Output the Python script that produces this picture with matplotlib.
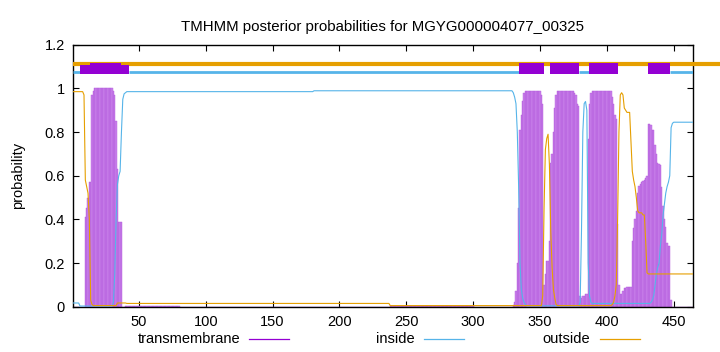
import numpy as np
import matplotlib
matplotlib.use("Agg")
import matplotlib.pyplot as plt
from matplotlib.lines import Line2D
from matplotlib.patches import Rectangle

plt.rcParams['font.family'] = ['Liberation Sans', 'DejaVu Sans']

title = "TMHMM posterior probabilities for MGYG000004077_00325"
seq_len = 464
x_ticks = [50, 100, 150, 200, 250, 300, 350, 400, 450]
y_ticks = [0, 0.2, 0.4, 0.6, 0.8, 1, 1.2]
y_tick_labels = ["0", "0.2", "0.4", "0.6", "0.8", "1", "1.2"]

# transmembrane posterior, pieces start at given residue
tm_pieces = [
    (10, [0.41, 0.45, 0.50, 0.57, 0.57, 0.97, 0.99] + [1.0] * 14
         + [0.99, 0.97, 0.85, 0.63, 0.39, 0.39, 0.39]),
    (40, [0.005] * 41),
    (238, [0.004] * 63),
    (330, [0.01, 0.02, 0.07, 0.20, 0.45, 0.81, 0.88, 0.94, 0.98] + [0.99] * 12
          + [0.97, 0.93, 0.10, 0.15, 0.21, 0.21, 0.30, 0.66, 0.70, 0.80, 0.91, 0.97]
          + [0.99] * 13
          + [0.98, 0.97, 0.93, 0.92, 0.05, 0.04, 0.05, 0.05, 0.06, 0.06, 0.77, 0.93, 0.98]
          + [0.99] * 15
          + [0.96, 0.93, 0.88, 0.86, 0.38, 0.10, 0.06, 0.06, 0.07,
             0.085, 0.085, 0.09, 0.09, 0.09, 0.09, 0.30, 0.36, 0.40, 0.44,
             0.52, 0.555, 0.56, 0.57, 0.575, 0.58, 0.59, 0.60, 0.835, 0.835,
             0.83, 0.81, 0.81, 0.74, 0.70, 0.66, 0.655, 0.65, 0.55, 0.46,
             0.40, 0.365, 0.29, 0.28, 0.28, 0.03]),
]

inside_pieces = [
    (1, [0.017] * 5 + [0.003] * 25),
    (31, [0.02, 0.15, 0.40, 0.56, 0.60, 0.62, 0.80, 0.95, 0.975, 0.98]),
    (41, [0.985] * 140 + [0.989] * 149),
    (330, [0.98, 0.96, 0.93, 0.80, 0.55, 0.20, 0.08, 0.04, 0.02, 0.01] + [0.004] * 40),
    (380, [0.02, 0.35, 0.80, 0.93, 0.94, 0.90, 0.20, 0.05, 0.02] + [0.015] * 44),
    (433, [0.02, 0.03, 0.05, 0.10, 0.15, 0.18, 0.20, 0.28, 0.33, 0.42, 0.47,
           0.52, 0.55, 0.57, 0.60, 0.82, 0.84] + [0.845] * 15),
]

outside_pieces = [
    (1, [0.985] * 8 + [0.97, 0.58, 0.55, 0.52, 0.40, 0.03, 0.01] + [0.005] * 18),
    (34, [0.017] * 7 + [0.015] * 197),
    (238, [0.005] * 114),
    (352, [0.05, 0.45, 0.72, 0.77, 0.79, 0.65, 0.35, 0.18, 0.08, 0.04, 0.01] + [0.005] * 41),
    (404, [0.01, 0.02, 0.05, 0.10, 0.40, 0.80, 0.97, 0.98, 0.97, 0.91, 0.90,
           0.89, 0.89, 0.89, 0.75, 0.62, 0.58, 0.55, 0.50, 0.44, 0.43, 0.43,
           0.43, 0.42, 0.42, 0.30, 0.155] + [0.15] * 34),
]

# predicted topology drawn above the curves
tm_boxes = [(6.3, 42.5, 1.105), (13.8, 37.0, 1.117), (334.2, 353.2, 1.117),
            (357.5, 379.5, 1.117), (386.5, 408.5, 1.117), (430.5, 447.5, 1.117)]
inside_segments = [(1, 6.3), (42.5, 334.2), (379.5, 386.5), (447.5, seq_len)]


def build(pieces):
    arr = np.zeros(seq_len)
    for start, vals in pieces:
        arr[start - 1:start - 1 + len(vals)] = vals
    return arr


pos = np.arange(1, seq_len + 1)
tm = build(tm_pieces)
inside = build(inside_pieces)
outside = build(outside_pieces)

c_tm = '#9400d3'
c_in = '#56b4e9'
c_out = '#e69f00'

fig = plt.figure(figsize=(7.2, 3.52), dpi=100)
ax = fig.add_axes([73.3 / 720, 1 - 306.7 / 352, (692.5 - 73.3) / 720, (306.7 - 44.7) / 352])

ax.bar(pos, tm, width=1.0, color='#c982ea', edgecolor='#b258dd', linewidth=0.3, zorder=2)
ax.plot(pos, inside, color=c_in, lw=0.8, zorder=3)
ax.plot(pos, outside, color=c_out, lw=0.8, zorder=3)

# topology line
ax.plot([1, 486], [1.111, 1.111], color=c_out, lw=3.0, clip_on=False, zorder=4,
        solid_capstyle='butt')
for a, b in inside_segments:
    ax.plot([a, b], [1.074, 1.074], color=c_in, lw=2.0, zorder=4, solid_capstyle='butt')
for a, b, top in tm_boxes:
    ax.add_patch(Rectangle((a, 1.068), b - a, top - 1.068, facecolor=c_tm,
                           edgecolor='none', zorder=5))

ax.set_xlim(1, seq_len)
ax.set_ylim(0, 1.2)
ax.set_xticks(x_ticks)
ax.set_yticks(y_ticks)
ax.set_yticklabels(y_tick_labels)
ax.tick_params(direction='in', length=4, width=0.8, top=True, right=True,
               labelsize=10.5, pad=6)
for s in ax.spines.values():
    s.set_linewidth(1.0)
ax.set_ylabel("probability", fontsize=10.5, labelpad=14)
ax.set_title(title, fontsize=10.8, pad=10)

# key below the axis
key = [("transmembrane", c_tm, 240, 249), ("inside", c_in, 415, 424), ("outside", c_out, 590, 600)]
for label, col, tx, lx in key:
    fig.text(tx / 720, 1 - 339 / 352, label, ha='right', va='center', fontsize=10.5)
    fig.add_artist(Line2D([lx / 720, (lx + 40) / 720], [1 - 339 / 352, 1 - 339 / 352],
                          color=col, lw=0.9))

fig.savefig("out.png", dpi=100)
